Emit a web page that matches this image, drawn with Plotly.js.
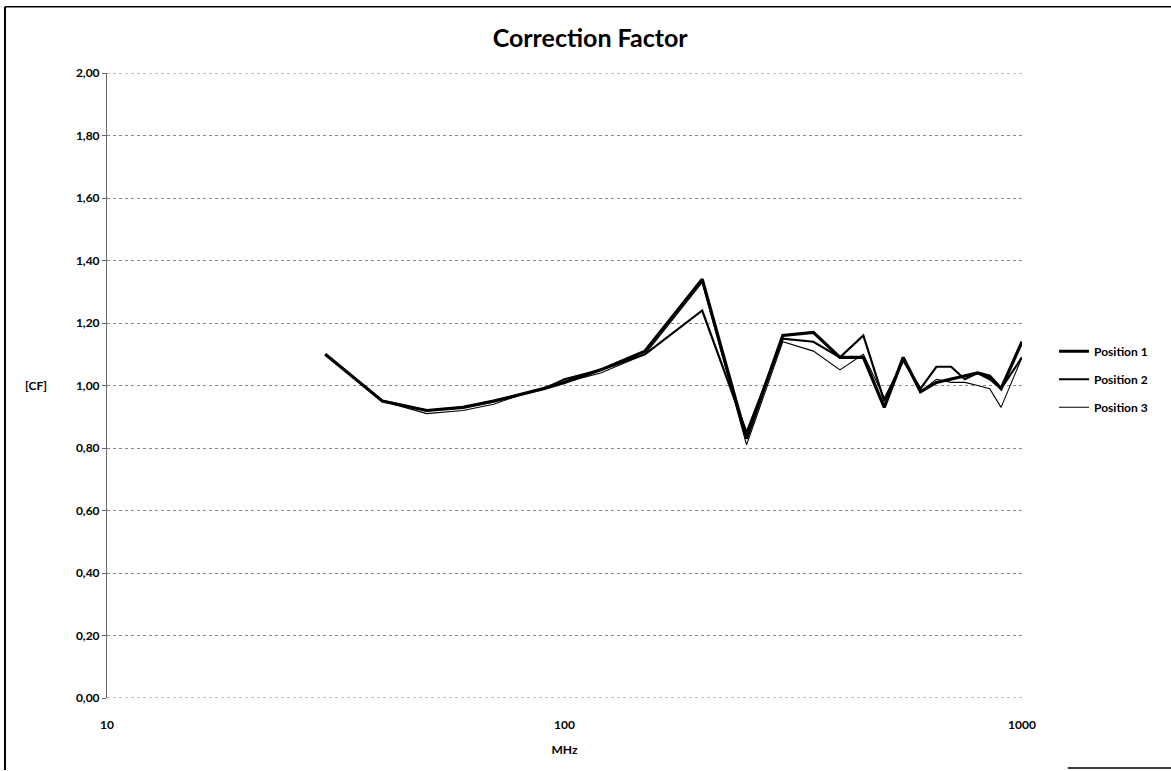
<!DOCTYPE html>
<html>
<head>
<meta charset="utf-8">
<script src="https://cdn.plot.ly/plotly-3.0.1.min.js"></script>
<style>html,body{margin:0;padding:0;background:#fff;}#chart{width:1171px;height:771px;}</style>
</head>
<body>
<div id="chart"></div>
<script>
const freqMHz = [30, 40, 50, 60, 70, 80, 90, 100, 120, 150, 200, 250, 300, 350, 400, 450, 500, 550, 600, 650, 700, 750, 800, 850, 900, 1000];
const position1 = [1.10, 0.95, 0.92, 0.93, 0.95, 0.97, 0.99, 1.01, 1.05, 1.11, 1.34, 0.83, 1.16, 1.17, 1.09, 1.09, 0.93, 1.09, 0.98, 1.01, 1.02, 1.03, 1.04, 1.03, 0.99, 1.14];
const position2 = [1.10, 0.95, 0.92, 0.93, 0.95, 0.97, 0.99, 1.02, 1.05, 1.10, 1.24, 0.85, 1.15, 1.14, 1.09, 1.16, 0.95, 1.08, 0.99, 1.06, 1.06, 1.02, 1.04, 1.02, 0.99, 1.09];
const position3 = [1.10, 0.95, 0.91, 0.92, 0.94, 0.97, 0.99, 1.01, 1.04, 1.10, 1.33, 0.81, 1.14, 1.11, 1.05, 1.10, 0.96, 1.08, 0.98, 1.02, 1.01, 1.01, 1.00, 0.99, 0.93, 1.09];
const seriesNames = ["Position 1", "Position 2", "Position 3"];
const yTickVals = [0, 0.2, 0.4, 0.6, 0.8, 1.0, 1.2, 1.4, 1.6, 1.8, 2.0];
const yMin = 0, yMax = 2;
const xTickVals = [10, 100, 1000];
const xTickText = ["10", "100", "1000"];

const widths = [3.2, 2.2, 1.1];
const data = [position1, position2, position3].map((ys, i) => ({
  x: freqMHz, y: ys, type: 'scatter', mode: 'lines', name: seriesNames[i],
  legendgroup: 'g' + i,
  line: {color: '#000', width: widths[i]}
}));

const font = {family: 'Lato, "Open Sans", sans-serif', color: '#000'};
const gridLine = {color: '#888', width: 1, dash: 'dot'};
const layout = {
  width: 1171, height: 771,
  paper_bgcolor: '#fff', plot_bgcolor: '#fff',
  separators: ',.',
  margin: {l: 107, r: 149, t: 73, b: 73},
  title: {text: '<b>Correction Factor</b>', x: 0.504, xanchor: 'center', y: 0.951, yanchor: 'middle',
    font: Object.assign({}, font, {size: 25})},
  xaxis: {
    type: 'log', range: [1, 3], tickvals: xTickVals, ticktext: xTickText,
    showgrid: false, zeroline: false, showline: false, ticks: '',
    tickfont: Object.assign({}, font, {size: 12, weight: 'bold'}),
    ticklabelstandoff: 18,
    title: {text: '<b>MHz</b>', font: Object.assign({}, font, {size: 12}), standoff: 14}
  },
  yaxis: {
    range: [yMin, yMax], tickvals: yTickVals, tickformat: '.2f',
    showgrid: true, gridcolor: '#888', griddash: 'dot', gridwidth: 1,
    zeroline: false, showline: true, linecolor: '#666', linewidth: 1,
    ticks: 'outside', ticklen: 4, tickcolor: '#666',
    tickfont: Object.assign({}, font, {size: 12, weight: 'bold'})
  },
  showlegend: true,
  legend: {x: 1.035, xanchor: 'left', y: 0.51, yanchor: 'middle', bgcolor: 'rgba(0,0,0,0)',
    font: Object.assign({}, font, {size: 12, weight: 'bold'}), tracegroupgap: 9},
  annotations: [
    {text: '<b>[CF]</b>', xref: 'paper', yref: 'paper', x: -0.078, y: 0.5, xanchor: 'center', yanchor: 'middle',
      showarrow: false, font: Object.assign({}, font, {size: 12})}
  ],
  shapes: [
    {type: 'line', xref: 'paper', yref: 'y', x0: 0, x1: 1, y0: yMin, y1: yMin, line: gridLine, layer: 'below'},
    {type: 'line', xref: 'paper', yref: 'y', x0: 0, x1: 1, y0: yMax, y1: yMax, line: gridLine, layer: 'below'},
    {type: 'line', xref: 'paper', yref: 'paper', x0: -0.1115, x1: -0.1115, y0: -0.115, y1: 1.106, line: {color: '#000', width: 2}},
    {type: 'line', xref: 'paper', yref: 'paper', x0: -0.1115, x1: 1.165, y0: 1.106, y1: 1.106, line: {color: '#000', width: 1.5}},
    {type: 'line', xref: 'paper', yref: 'paper', x0: 1.05, x1: 1.165, y0: -0.112, y1: -0.112, line: {color: '#000', width: 1.5}}
  ]
};

Plotly.newPlot('chart', data, layout, {displayModeBar: false, staticPlot: true});
</script>
</body>
</html>
